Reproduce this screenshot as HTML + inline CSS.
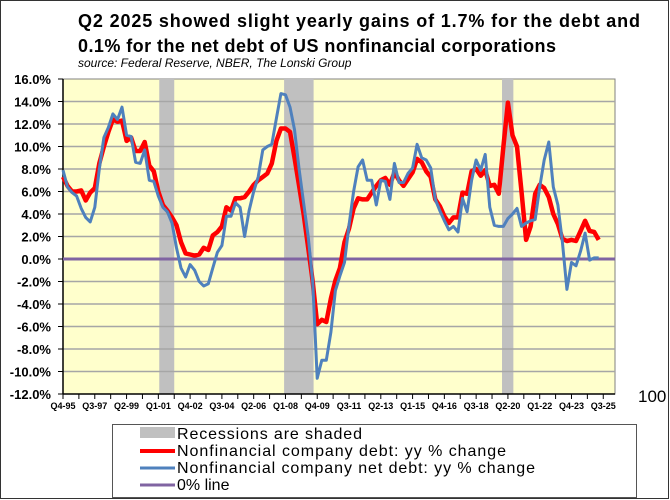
<!DOCTYPE html>
<html><head><meta charset="utf-8"><style>
body{margin:0;background:#fff;}
svg{display:block;font-family:"Liberation Sans",Arial,sans-serif;}
</style></head><body>
<svg id="chart" width="670" height="500" viewBox="0 0 670 500">
<rect x="0.5" y="0.5" width="668" height="498" fill="#fff" stroke="#333"/>
<text x="78" y="27" font-size="18" font-weight="bold" textLength="562" lengthAdjust="spacing">Q2 2025 showed slight yearly gains of 1.7% for the debt and</text>
<text x="78" y="52" font-size="18" font-weight="bold" textLength="478" lengthAdjust="spacing">0.1% for the net debt of US nonfinancial corporations</text>
<text x="78" y="67" font-size="12" font-style="italic">source: Federal Reserve, NBER, The Lonski Group</text>
<rect x="63" y="79" width="552" height="315" fill="#ffffcc" stroke="#808080"/>
<g id="rec"></g><g id="grid"></g><g id="axes"></g><g id="series"></g>
<text x="638" y="402" font-size="17">100</text>
<rect x="112.5" y="424.5" width="524" height="73" fill="#fff" stroke="#555"/>
<rect x="140" y="427" width="35" height="11" fill="#c0c0c0"/>
<text x="177" y="439" font-size="16" textLength="185" lengthAdjust="spacing">Recessions are shaded</text>
<line x1="140" y1="451" x2="175" y2="451" stroke="#ff0000" stroke-width="4"/>
<text x="177" y="456" font-size="16" textLength="329" lengthAdjust="spacing">Nonfinancial company debt: yy % change</text>
<line x1="140" y1="468" x2="175" y2="468" stroke="#4f81bd" stroke-width="3"/>
<text x="177" y="473" font-size="16" textLength="358" lengthAdjust="spacing">Nonfinancial company net debt: yy % change</text>
<line x1="140" y1="485" x2="175" y2="485" stroke="#8064a2" stroke-width="3"/>
<text x="177" y="490" font-size="16">0% line</text>
</svg>
<script>
const yTicks=[16,14,12,10,8,6,4,2,0,-2,-4,-6,-8,-10,-12];
const xLabels=["Q4-95","Q3-97","Q2-99","Q1-01","Q4-02","Q3-04","Q2-06","Q1-08","Q4-09","Q3-11","Q2-13","Q1-15","Q4-16","Q3-18","Q2-20","Q1-22","Q4-23","Q3-25"];
const recessionStart=[21.2,48.7,96.7];
const recessionEnd=[24.5,55.2,99.2];
const debt=[7.3,6.5,6.0,6.0,6.1,5.2,5.9,6.3,8.5,10.0,11.3,12.4,12.2,12.3,10.5,10.8,9.6,9.6,10.4,8.3,7.8,6.0,4.8,4.3,3.7,3.0,1.5,0.5,0.4,0.3,0.4,1.0,0.8,2.1,2.4,2.9,4.6,4.3,5.4,5.4,5.5,6.0,6.6,7.0,7.3,7.6,8.5,10.5,11.6,11.6,11.3,9.0,6.5,4.0,1.0,-2.0,-5.8,-5.4,-5.6,-3.5,-1.9,-0.8,1.5,2.7,4.5,5.4,5.3,5.3,5.9,6.5,7.0,7.2,6.6,7.7,7.0,6.5,7.1,7.7,8.9,8.6,7.8,7.3,5.3,4.7,3.8,3.2,3.7,3.7,5.9,5.8,7.8,8.0,7.4,7.9,6.5,6.6,5.8,10.0,13.9,11.0,10.0,6.0,1.7,2.9,5.8,6.6,6.3,5.5,4.0,3.1,1.8,1.6,1.7,1.6,2.5,3.4,2.5,2.4,1.7];
const netDebt=[7.9,6.4,5.9,5.6,4.5,3.7,3.3,4.6,8.0,10.8,11.7,12.9,12.4,13.5,11.0,10.9,8.6,8.5,9.7,7.0,6.9,5.6,4.6,4.2,3.2,1.0,-0.8,-1.6,-0.5,-1.0,-2.0,-2.4,-2.2,-0.8,0.6,1.2,3.8,3.8,5.0,4.6,2.0,4.3,6.0,7.3,9.7,10.0,10.2,12.5,14.7,14.6,13.5,11.5,8.0,5.0,2.0,-2.0,-10.6,-9.0,-9.0,-6.5,-2.8,-1.5,-0.3,3.0,6.0,8.2,8.8,7.0,7.0,4.8,7.0,6.9,5.3,8.5,6.8,6.8,7.6,8.1,10.2,9.0,8.8,8.1,5.3,4.3,3.4,2.6,2.9,2.4,5.4,4.2,7.0,8.8,7.9,9.3,4.6,3.0,2.9,2.9,3.6,4.0,4.5,2.9,3.2,3.4,3.5,6.4,8.8,10.4,6.4,4.8,1.5,-2.7,-0.3,-0.6,0.7,2.3,-0.1,0.1,0.1];
const NS='http://www.w3.org/2000/svg';
const X0=63,DX=4.54,Y0=259,PY=11.25;
function xs(i){return X0+i*DX;}
function ys(v){return Y0-v*PY;}
function mk(tag,attrs,parent){const e=document.createElementNS(NS,tag);for(const k in attrs)e.setAttribute(k,attrs[k]);document.getElementById(parent).appendChild(e);return e;}
recessionStart.forEach((s,k)=>{
 const r=mk('rect',{x:xs(s),y:79,width:xs(recessionEnd[k])-xs(s),height:315,fill:'#c0c0c0'},'rec');
 
 
});
yTicks.forEach(v=>{
 if(v!==16&&v!==-12){const g=mk('line',{x1:63,x2:615,y1:ys(v),y2:ys(v),stroke:'#a6a6a6','stroke-width':1.5},'grid');
 
 }
 const t=mk('line',{x1:58,x2:63,y1:ys(v),y2:ys(v),stroke:'#000'},'axes');
 
 
 const l=mk('text',{x:51,y:ys(v)+5,'text-anchor':'end','font-size':13,'font-weight':'bold'},'axes');
 l.textContent=v.toFixed(1)+'%';
 
 
});
const ya=mk('line',{x1:63,x2:63,y1:79,y2:394,stroke:'#000','stroke-width':1.5},'axes');


const xa=mk('line',{x1:63,x2:615,y1:394,y2:394,stroke:'#000','stroke-width':1.5},'axes');


for(let k=0;k<35;k++){
 const tk=mk('line',{x1:xs(k*3.5),x2:xs(k*3.5),y1:394,y2:399,stroke:'#000'},'axes');
 
 
}
xLabels.forEach((s,k)=>{
 const t=mk('text',{x:xs(k*7),y:409,'text-anchor':'middle','font-size':9,'font-weight':'bold'},'axes');
 t.textContent=s;
 
 
});
const z=mk('line',{x1:63,x2:615,y1:ys(0),y2:ys(0),stroke:'#8064a2','stroke-width':3},'series');


function path(arr,color,w,name){
 const d=arr.map((v,i)=>(i?'L':'M')+xs(i).toFixed(1)+' '+ys(v).toFixed(1)).join(' ');
 const p=mk('path',{d:d,fill:'none',stroke:color,'stroke-width':w,'stroke-linejoin':'round'},'series');
 
 
}
path(debt,'#ff0000',4.5,'debt-line');
path(netDebt,'#4f81bd',3,'net-debt-line');
</script>
</body></html>
